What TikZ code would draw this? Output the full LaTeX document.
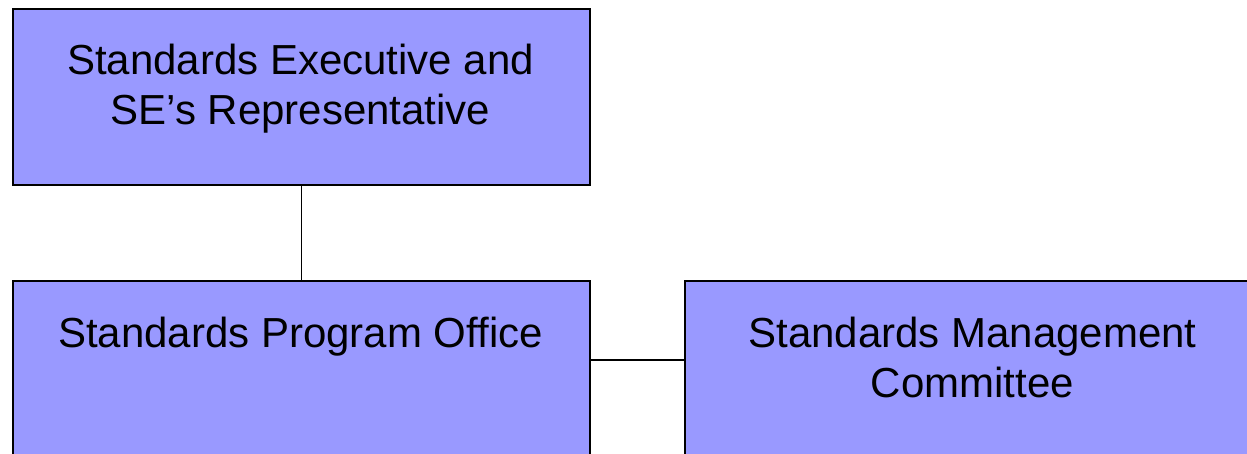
\documentclass[tikz,border=0pt]{standalone}
\usepackage{fontspec}
\setmainfont{Liberation Sans}
\definecolor{boxfill}{HTML}{9999FF}
\begin{document}
\begin{tikzpicture}[x=1pt,y=-1pt,
  orgbox/.style={draw=black,line width=1.6pt,fill=boxfill,rectangle,
    minimum width=577pt,minimum height=176pt,inner sep=0pt,anchor=north west},
  label/.style={anchor=base,inner sep=0pt,font=\fontsize{42}{50}\selectfont},
  link/.style={draw=black,line width=1.6pt}]
  \useasboundingbox (0,0) rectangle (1247,454);
  \clip (0,0) rectangle (1247,454);
  % boxes
  \node[orgbox] (se)  at (12,8) {};
  \node[orgbox] (spo) at (12,280) {};
  \node[orgbox] (smc) at (684,280) {};
  % connectors
  \coordinate (mid) at (0,360);
  \draw[link] (se.south) -- (spo.north);
  \draw[link] (spo.east |- mid) -- (smc.west |- mid);
  % texts
  \node[label] (t1) at (300.5,75) {Standards Executive and};
  \node[label] (t2) at (300.5,125) {SE’s Representative};
  \node[label] (t3) at (300.5,347) {Standards Program Office};
  \node[label] (t4) at (972.5,347) {Standards Management};
  \node[label] (t5) at (972.5,397) {Committee};
\end{tikzpicture}
\end{document}
